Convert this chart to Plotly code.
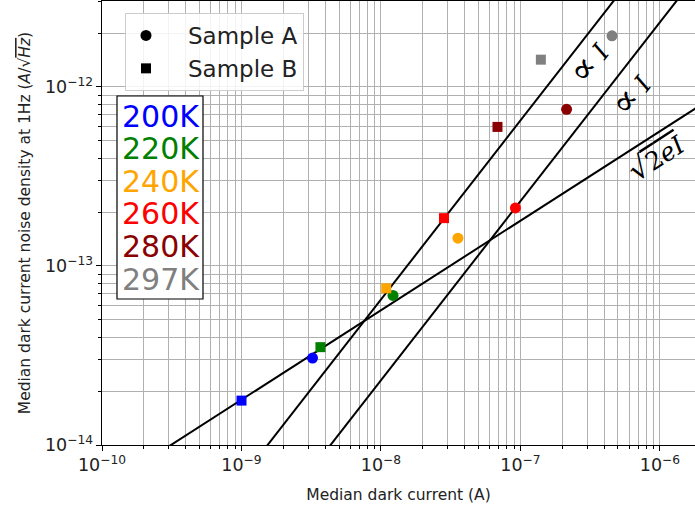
import numpy as np
import plotly.graph_objects as go

# ---- data ----
temps = ["200K", "220K", "240K", "260K", "280K", "297K"]
colors = ["#0000ff", "#008000", "#ffa500", "#ff0000", "#8b0000", "#808080"]

sampleA_current = [3.23e-9, 1.22e-8, 3.56e-8, 9.2e-8, 2.14e-7, 4.53e-7]
sampleA_noise = [3.06e-14, 6.85e-14, 1.43e-13, 2.11e-13, 7.5e-13, 1.93e-12]

sampleB_current = [1.0e-9, 3.68e-9, 1.09e-8, 2.83e-8, 6.84e-8, 1.40e-7]
sampleB_noise = [1.77e-14, 3.52e-14, 7.5e-14, 1.85e-13, 5.98e-13, 1.42e-12]

line_current = [1e-10, 1e-5]
e_charge = 1.602e-19
prop_coeffs = [6.5e-6, 2.3e-6]

FONT = "DejaVu Sans"

fig = go.Figure()

# theory lines
I = np.array(line_current)
fig.add_trace(go.Scatter(x=I, y=np.sqrt(2 * e_charge * I), mode="lines",
                         line=dict(color="black", width=2), showlegend=False, hoverinfo="skip"))
for k in prop_coeffs:
    fig.add_trace(go.Scatter(x=I, y=k * I, mode="lines",
                             line=dict(color="black", width=2), showlegend=False, hoverinfo="skip"))

# data points
fig.add_trace(go.Scatter(x=sampleA_current, y=sampleA_noise, mode="markers",
                         marker=dict(symbol="circle", size=11, color=colors), showlegend=False))
fig.add_trace(go.Scatter(x=sampleB_current, y=sampleB_noise, mode="markers",
                         marker=dict(symbol="square", size=10, color=colors), showlegend=False))

# legend entries (black markers)
fig.add_trace(go.Scatter(x=[None], y=[None], mode="markers", name="   Sample A",
                         marker=dict(symbol="circle", size=11, color="black")))
fig.add_trace(go.Scatter(x=[None], y=[None], mode="markers", name="   Sample B",
                         marker=dict(symbol="square", size=10, color="black")))

grid = "#b0b0b0"
TITLE_SIZE = 15.5
fig.update_xaxes(type="log", range=[-10, -5.749], dtick=1, exponentformat="power",
                 showgrid=True, gridcolor=grid, gridwidth=1,
                 minor=dict(dtick="D1", showgrid=True, gridcolor=grid, gridwidth=1,
                            ticks="outside", ticklen=3, tickcolor="black"),
                 ticks="outside", ticklen=5, tickcolor="black",
                 showline=True, linecolor="black", linewidth=1.2, mirror=True,
                 zeroline=False,
                 tickfont=dict(family=FONT, size=14, color="#222"),
                 title=dict(text="Median dark current (A)", font=dict(family=FONT, size=TITLE_SIZE, color="#222"),
                            standoff=14))
fig.update_yaxes(type="log", range=[-14, -11.52], dtick=1, exponentformat="power",
                 showgrid=True, gridcolor=grid, gridwidth=1,
                 minor=dict(dtick="D1", showgrid=True, gridcolor=grid, gridwidth=1,
                            ticks="outside", ticklen=3, tickcolor="black"),
                 ticks="outside", ticklen=5, tickcolor="black",
                 showline=True, linecolor="black", linewidth=1.2, mirror=False,
                 zeroline=False,
                 tickfont=dict(family=FONT, size=14, color="#222"),
                 title=dict(text="Median dark current noise density at 1Hz (<i>A</i>/√<span style='text-decoration:overline'><i>Hz</i></span>)",
                            font=dict(family=FONT, size=TITLE_SIZE, color="#222"), standoff=10))

# text labels along lines
serif = "DejaVu Serif"
prop_text = "<span style='font-size:36px'>∝</span> <i>I</i>"
fig.add_annotation(x=-6.516, y=-11.86, text=prop_text, showarrow=False, textangle=-52,
                   font=dict(family=serif, size=25, color="black"))
fig.add_annotation(x=-6.215, y=-12.034, text=prop_text, showarrow=False, textangle=-52,
                   font=dict(family=serif, size=25, color="black"))
fig.add_annotation(x=-6.022, y=-12.391,
                   text="<span style='font-size:30px'>√</span><span style='text-decoration:overline'>2<i>eI</i></span>",
                   showarrow=False, textangle=-33,
                   font=dict(family=serif, size=25, color="black"))

# temperature box
W, H = 695, 510
ml, mr, mt, mb = 102, 0, 1, 65
pw, ph = W - ml - mr, H - mt - mb

def px(xp):
    return (xp - ml) / pw

def py(yp):
    return (H - mb - yp) / ph

fig.add_shape(type="rect", xref="paper", yref="paper", x0=px(117), x1=px(203), y0=py(299), y1=py(96),
              line=dict(color="black", width=1.2), fillcolor="white", layer="above")
for i, (t, c) in enumerate(zip(temps, colors)):
    fig.add_annotation(xref="paper", yref="paper", x=px(161), y=py(116 + i * 32.6), text=t,
                       showarrow=False, xanchor="center", yanchor="middle",
                       font=dict(family=FONT, size=30, color=c))

fig.update_layout(
    width=W, height=H,
    margin=dict(l=ml, r=mr, t=mt, b=mb),
    plot_bgcolor="white", paper_bgcolor="white",
    legend=dict(x=px(125), y=py(13), xanchor="left", yanchor="top",
                bgcolor="rgba(255,255,255,0.85)", bordercolor="#cccccc", borderwidth=1,
                font=dict(family=FONT, size=23, color="#222"), itemwidth=30,
                tracegroupgap=0),
    showlegend=True,
)

fig.write_html("out.html")
